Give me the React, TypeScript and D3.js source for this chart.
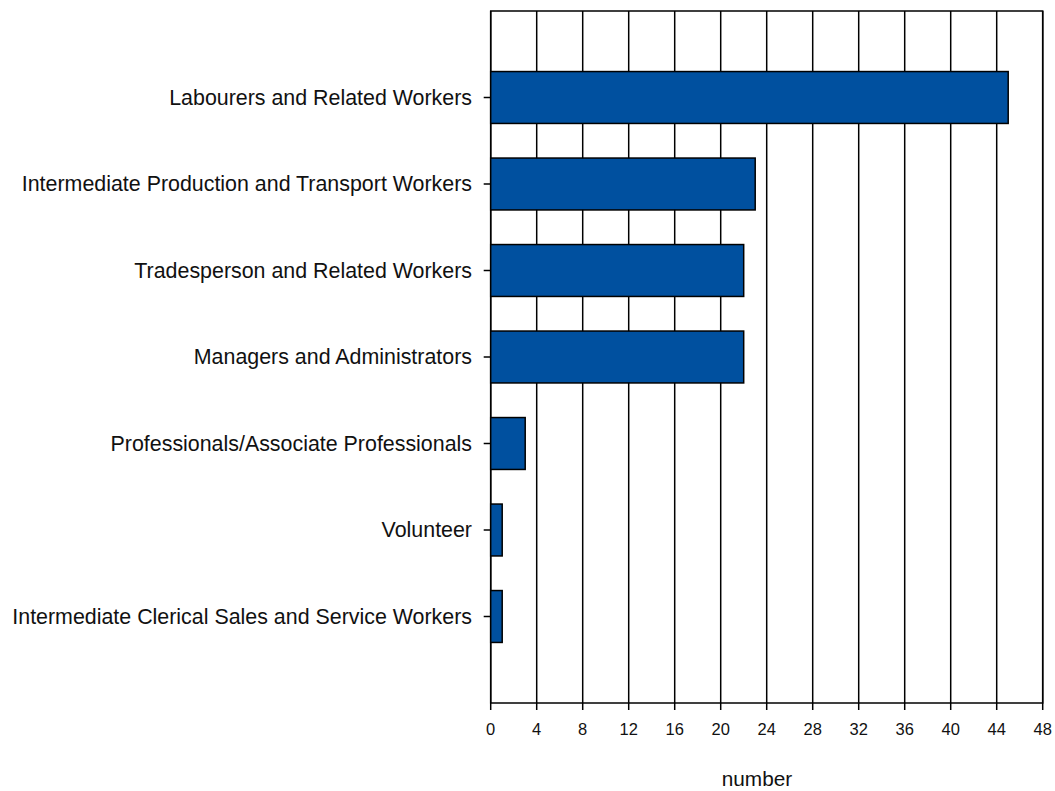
import React, { useEffect, useRef } from 'react';
import * as d3 from 'd3';

const categories = [
  'Labourers and Related Workers',
  'Intermediate Production and Transport Workers',
  'Tradesperson and Related Workers',
  'Managers and Administrators',
  'Professionals/Associate Professionals',
  'Volunteer',
  'Intermediate Clerical Sales and Service Workers',
];
const values = [45, 23, 22, 22, 3, 1, 1];
const xTicks = [0, 4, 8, 12, 16, 20, 24, 28, 32, 36, 40, 44, 48];
const xTitle = 'number';

const App = () => {
  const ref = useRef<SVGSVGElement | null>(null);

  useEffect(() => {
    if (!ref.current) return;
    const svg = d3.select(ref.current);
    svg.selectAll('*').remove();

    const left = 490.7, right = 1042.7, top = 11, bottom = 703;
    const font = 'Arial, "Liberation Sans", sans-serif';

    const x = d3.scaleLinear().domain([0, 48]).range([left, right]);
    const y = d3.scaleBand<string>()
      .domain(categories)
      .range([top, bottom])
      .paddingInner(0.4)
      .paddingOuter(0.7);

    // vertical grid lines
    svg.append('g')
      .selectAll('line')
      .data(xTicks)
      .enter().append('line')
      .attr('x1', d => x(d)).attr('x2', d => x(d))
      .attr('y1', top).attr('y2', bottom)
      .attr('stroke', '#000')
      .attr('stroke-width', 1.5);

    // frame
    svg.append('rect')
      .attr('x', left).attr('y', top)
      .attr('width', right - left).attr('height', bottom - top)
      .attr('fill', 'none')
      .attr('stroke', '#000')
      .attr('stroke-width', 1.5);

    // bars
    svg.append('g')
      .selectAll('rect')
      .data(categories)
      .enter().append('rect')
      .attr('x', x(0))
      .attr('y', d => y(d)!)
      .attr('width', (_, i) => x(values[i]) - x(0))
      .attr('height', y.bandwidth())
      .attr('fill', '#00509f')
      .attr('stroke', '#000')
      .attr('stroke-width', 1.5);

    // y ticks + labels
    const yg = svg.append('g');
    categories.forEach(c => {
      const cy = y(c)! + y.bandwidth() / 2;
      yg.append('line')
        .attr('x1', left - 7).attr('x2', left)
        .attr('y1', cy).attr('y2', cy)
        .attr('stroke', '#000').attr('stroke-width', 1.5);
      yg.append('text')
        .attr('x', 472)
        .attr('y', cy)
        .attr('dy', '0.35em')
        .attr('text-anchor', 'end')
        .style('font-family', font)
        .style('font-size', '21.4px')
        .attr('fill', '#111')
        .text(c);
    });

    // x ticks + labels
    const xg = svg.append('g');
    xTicks.forEach(t => {
      xg.append('line')
        .attr('x1', x(t)).attr('x2', x(t))
        .attr('y1', bottom).attr('y2', bottom + 7)
        .attr('stroke', '#000').attr('stroke-width', 1.5);
      xg.append('text')
        .attr('x', x(t))
        .attr('y', 734.5)
        .attr('text-anchor', 'middle')
        .style('font-family', font)
        .style('font-size', '16.5px')
        .attr('fill', '#111')
        .text(t);
    });

    svg.append('text')
      .attr('x', 757)
      .attr('y', 786)
      .attr('text-anchor', 'middle')
      .style('font-family', font)
      .style('font-size', '20.8px')
      .attr('fill', '#111')
      .text(xTitle);
  }, []);

  return (
    <svg
      ref={ref}
      width={1055}
      height={791}
      style={{ position: 'absolute', left: 0, top: 0, background: '#fff' }}
    />
  );
};

export default App;
